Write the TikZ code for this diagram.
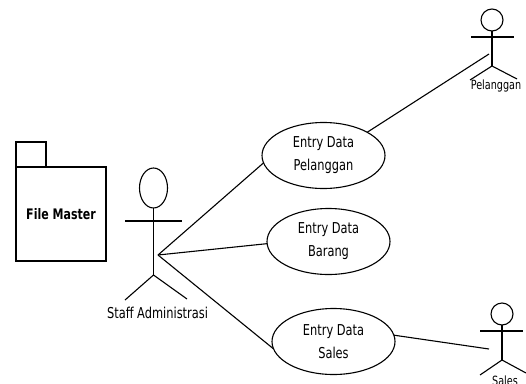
\documentclass[tikz,border=0pt]{standalone}
\usepackage{fontspec}
\setmainfont{DejaVu Sans}[FakeStretch=0.76]
\usetikzlibrary{shapes.geometric}

\begin{document}
\begin{tikzpicture}[
        x = 1pt,
        y = -1pt,
        usecase/.style = {
            draw,
            ellipse,
            line width = 1.1pt,
            minimum width = 123pt,
            minimum height = 66pt,
            inner sep = 0pt,
            outer sep = 0pt,
            align = center,
            font = \fontsize{15}{23}\selectfont
        },
        head/.style = {
            draw,
            ellipse,
            line width = 1.1pt,
            minimum width = #1,
            minimum height = #1,
            inner sep = 0pt,
            outer sep = 0pt
        },
        head/.default = 22pt,
        limb/.style = {line width = 1.1pt},
        link/.style = {line width = 1.1pt},
        box/.style = {draw, line width = 1.1pt, inner sep = 0pt, outer sep = 0pt},
        actorname/.style = {inner sep = 0pt, font = \fontsize{15}{15}\selectfont}
    ]
    \useasboundingbox (0,0) rectangle (526,383);
    % package
    \node[box, minimum width = 30pt, minimum height = 25pt] (tab) at (31,154.5) {};
    \node[box, minimum width = 90pt, minimum height = 94pt, font = \bfseries\fontsize{14.5}{15}\selectfont] (master) at (61,214) {File Master};

    % use cases
    \node[usecase] (pelanggan) at (323.5,155.5) {Entry Data\\Pelanggan};
    \node[usecase] (barang) at (328.5,241.5) {Entry Data\\Barang};
    \node[usecase] (sales) at (333.5,341.5) {Entry Data\\Sales};

    % staff
    \node[head, minimum width = 28pt, minimum height = 40pt] (h1) at (153.5,188) {};
    \coordinate (a1l) at (125,221);
    \coordinate (a1r) at (182,221);
    \coordinate (b1) at (153.5,275);
    \coordinate (f1l) at (125,300);
    \coordinate (f1r) at (187,299);
    \draw[limb] (a1l) -- (a1r);
    \draw[limb] (h1) -- (b1);
    \draw[limb] (f1l) -- (b1) -- (f1r);
    \node[actorname] (staff) at (157.5,313) {Staff Administrasi};

    % customer
    \node[head] (h2) at (492,20) {};
    \coordinate (a2l) at (471,37);
    \coordinate (a2r) at (514,37);
    \coordinate (b2) at (492,66);
    \coordinate (f2l) at (470,80);
    \coordinate (f2r) at (517,79);
    \draw[limb] (a2l) -- (a2r);
    \draw[limb] (h2) -- (b2);
    \draw[limb] (f2l) -- (b2) -- (f2r);
    \node[actorname, font = \fontsize{12.7}{13}\selectfont, fill = white] (cust) at (496,86) {Pelanggan};

    % sales
    \node[head] (h3) at (502,314) {};
    \coordinate (a3l) at (480,331);
    \coordinate (a3r) at (523,331);
    \coordinate (b3) at (502,360);
    \coordinate (f3l) at (480,375);
    \coordinate (f3r) at (526,373);
    \draw[limb] (a3l) -- (a3r);
    \draw[limb] (h3) -- (b3);
    \draw[limb] (f3l) -- (b3) -- (f3r);
    \node[actorname, font = \fontsize{12.7}{13}\selectfont] (sal) at (505,381) {Sales};

    % links
    \coordinate (hub) at (158,255);
    \coordinate (e2) at (489,54);
    \coordinate (e3) at (489,349);
    \draw[link] (hub) -- (pelanggan.187);
    \draw[link] (hub) -- (barang.182);
    \draw[link] (hub) -- (sales.187);
    \draw[link] (pelanggan.28) -- (e2);
    \draw[link] (sales.6) -- (e3);
\end{tikzpicture}
\end{document}
